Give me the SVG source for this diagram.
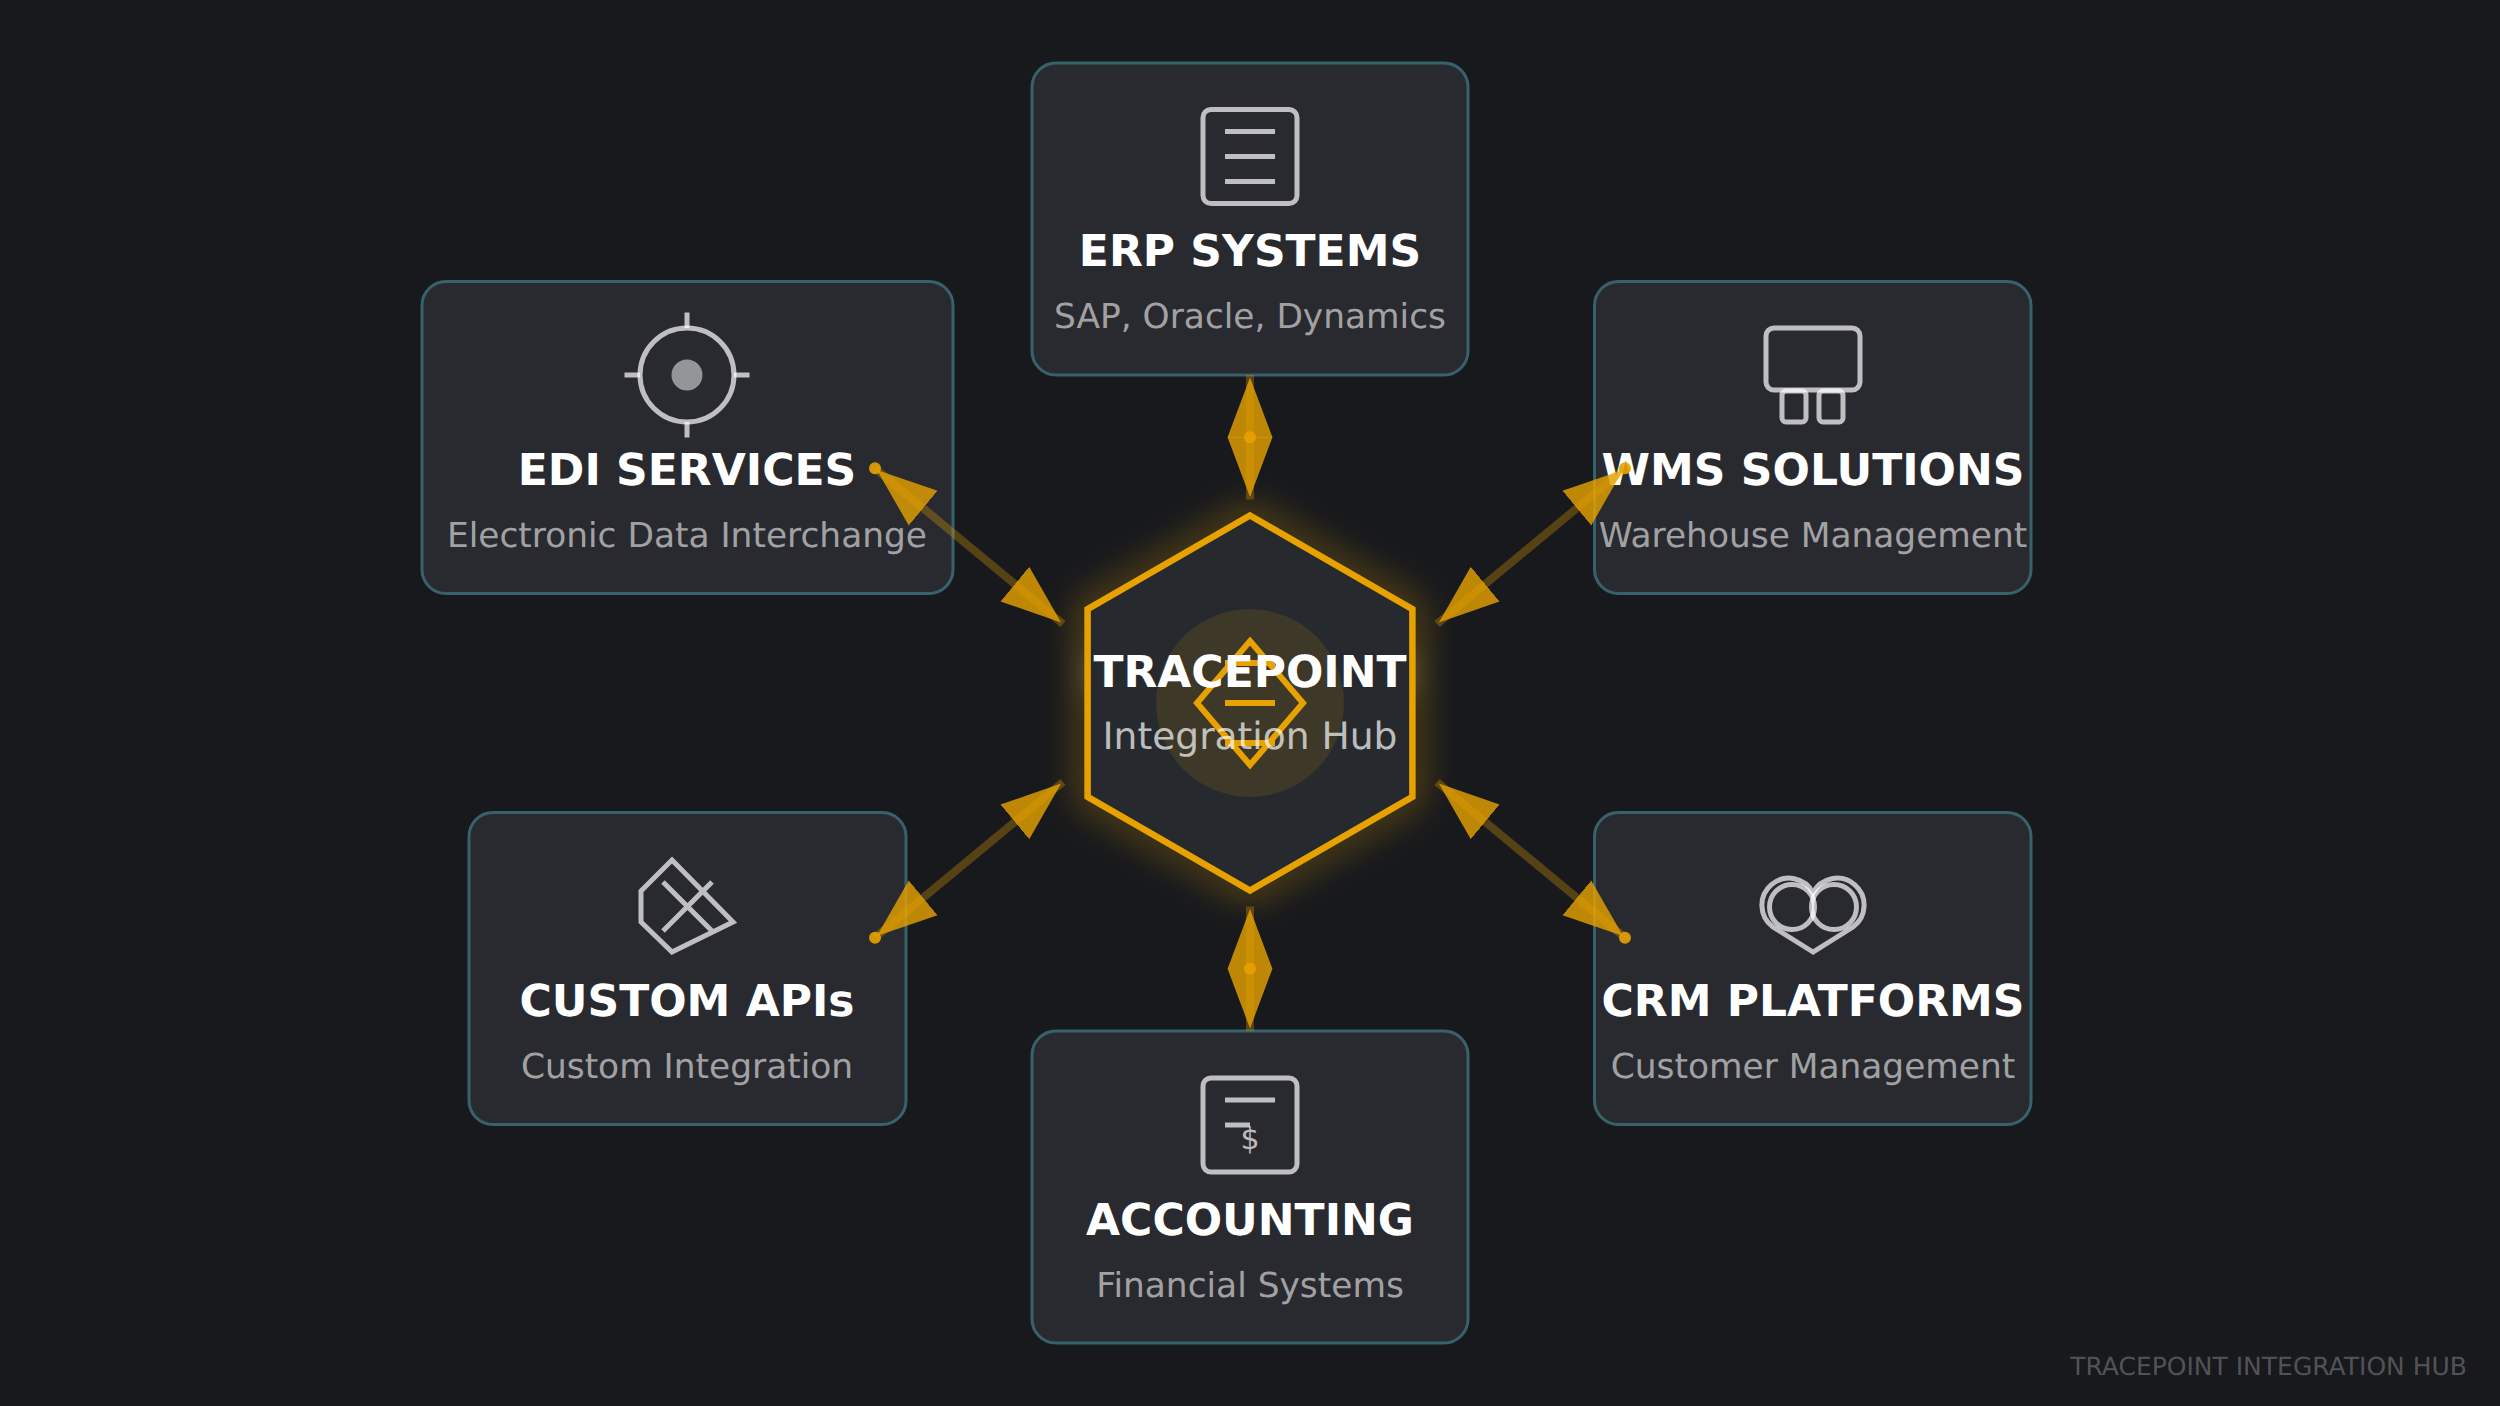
<svg xmlns="http://www.w3.org/2000/svg" width="2500" height="1406" viewBox="0 0 2500 1406">
<style>
text{font-family:"DejaVu Sans",sans-serif;text-anchor:middle;text-rendering:geometricPrecision}
.box{fill:#292a2f;stroke:#38626b;stroke-width:3}
.t{font-size:44px;font-weight:700;fill:#fff}
.s{font-size:34.4px;fill:#fff;fill-opacity:.58}
.i{fill:none;stroke:#fff;stroke-opacity:.7;stroke-width:5}
.c{stroke:#e8a200;stroke-opacity:.3;stroke-width:8;fill:none;marker-start:url(#h);marker-end:url(#h)}
.d{fill:#e8a200;fill-opacity:.9}
</style>
<defs>
<marker id="h" markerUnits="userSpaceOnUse" markerWidth="70" markerHeight="50" viewBox="0 0 70 50" refX="62.5" refY="25" orient="auto-start-reverse"><path d="M0,2.500 L60,25 L0,47.500Z" fill="#e8a200" fill-opacity=".8"/></marker>
<filter id="glow" x="-30%" y="-30%" width="160%" height="160%"><feGaussianBlur stdDeviation="18"/></filter>
<filter id="soft" x="-30%" y="-100%" width="160%" height="300%"><feGaussianBlur stdDeviation="14"/></filter>
</defs>
<rect width="2500" height="1406" fill="#17191d"/>
<g id="erp"><rect class="box" x="1032" y="63" width="436" height="312" rx="24"/>
<rect class="i" x="1203" y="109.5" width="94" height="94" rx="8"/><path class="i" d="M1225,131.5H1275M1225,156.5H1275M1225,181.5H1275"/>
<text class="t" x="1250" y="266">ERP SYSTEMS</text><text class="s" x="1250" y="328">SAP, Oracle, Dynamics</text></g>
<g id="edi"><rect class="box" x="422" y="281.500" width="531" height="312" rx="24"/>
<circle class="i" cx="687" cy="375" r="47"/><circle cx="687" cy="375" r="15.5" fill="#fff" fill-opacity=".5"/>
<path class="i" d="M687,312.5V328M687,422V437.5M624.500,375H640M734,375H749.500"/>
<text class="t" x="687" y="484.500">EDI SERVICES</text><text class="s" x="687" y="547">Electronic Data Interchange</text></g>
<g id="wms"><rect class="box" x="1594.500" y="281.500" width="436.500" height="312" rx="24"/>
<rect class="i" x="1766" y="328" width="94" height="62" rx="8"/><rect class="i" x="1782" y="391" width="24" height="31" rx="4"/><rect class="i" x="1819" y="391" width="24" height="31" rx="4"/>
<text class="t" x="1813" y="484.500">WMS SOLUTIONS</text><text class="s" x="1813" y="547">Warehouse Management</text></g>
<g id="api"><rect class="box" x="469" y="812.500" width="437" height="312" rx="24"/>
<path class="i" d="M641,891L672,860L733,922L672,952L641,922Z M663,882L712,931M663,931L712,882"/>
<text class="t" x="687" y="1016">CUSTOM APIs</text><text class="s" x="687" y="1078">Custom Integration</text></g>
<g id="crm"><rect class="box" x="1594.500" y="812.500" width="436.500" height="312" rx="24"/>
<path class="i" d="M1813,952L1773,927A27,27 0 1 1 1813,893A27,27 0 1 1 1853,927Z"/><circle class="i" cx="1792" cy="907" r="22.5"/><circle class="i" cx="1834" cy="907" r="22.5"/>
<text class="t" x="1813" y="1016">CRM PLATFORMS</text><text class="s" x="1813" y="1078">Customer Management</text></g>
<g id="accounting"><rect class="box" x="1032" y="1031" width="436" height="312" rx="24"/>
<rect class="i" x="1203" y="1078" width="94" height="94" rx="8"/><path class="i" d="M1225,1100H1275M1225,1125H1250"/>
<text x="1250" y="1149" font-size="30" fill="#fff" fill-opacity=".7">$</text>
<text class="t" x="1250" y="1235">ACCOUNTING</text><text class="s" x="1250" y="1297">Financial Systems</text></g>
<g id="hub">
<rect x="1092" y="650" width="316" height="44" fill="#fff" fill-opacity=".35" filter="url(#soft)"/>
<polygon points="1250,515.500 1412.400,609.250 1412.400,796.750 1250,890.500 1087.600,796.750 1087.600,609.250" fill="none" stroke="#e8a200" stroke-width="12" filter="url(#glow)" opacity=".65"/>
<polygon points="1250,515.500 1412.400,609.250 1412.400,796.750 1250,890.500 1087.600,796.750 1087.600,609.250" fill="#26292e" stroke="#e8a200" stroke-width="6.500"/>
<circle cx="1250" cy="703" r="94" fill="#e8a200" fill-opacity=".12"/>
<path d="M1250,641L1303,703L1250,765L1197,703Z M1225,663H1275M1225,703H1275M1225,743H1275" fill="none" stroke="#e8a200" stroke-width="6"/>
<text x="1250" y="687" font-size="44" font-weight="700" fill="#fff">TRACEPOINT</text>
<text x="1250" y="749" font-size="37.6" fill="#fff" fill-opacity=".7">Integration Hub</text>
</g>
<g id="connectors">
<path class="c" d="M1250,375V499.5"/><circle class="d" cx="1250" cy="437.3" r="6"/>
<path class="c" d="M1250,906.5V1031"/><circle class="d" cx="1250" cy="968.7" r="6"/>
<path class="c" d="M875,468.3L1063,624"/><circle class="d" cx="875" cy="468.3" r="6"/>
<path class="c" d="M1625,468.3L1437,624"/><circle class="d" cx="1625" cy="468.3" r="6"/>
<path class="c" d="M875,937.7L1063,782"/><circle class="d" cx="875" cy="937.7" r="6"/>
<path class="c" d="M1625,937.7L1437,782"/><circle class="d" cx="1625" cy="937.7" r="6"/>
</g>
<text x="2467" y="1374.500" font-size="25" fill="#fff" fill-opacity=".26" style="text-anchor:end">TRACEPOINT INTEGRATION HUB</text>
</svg>
